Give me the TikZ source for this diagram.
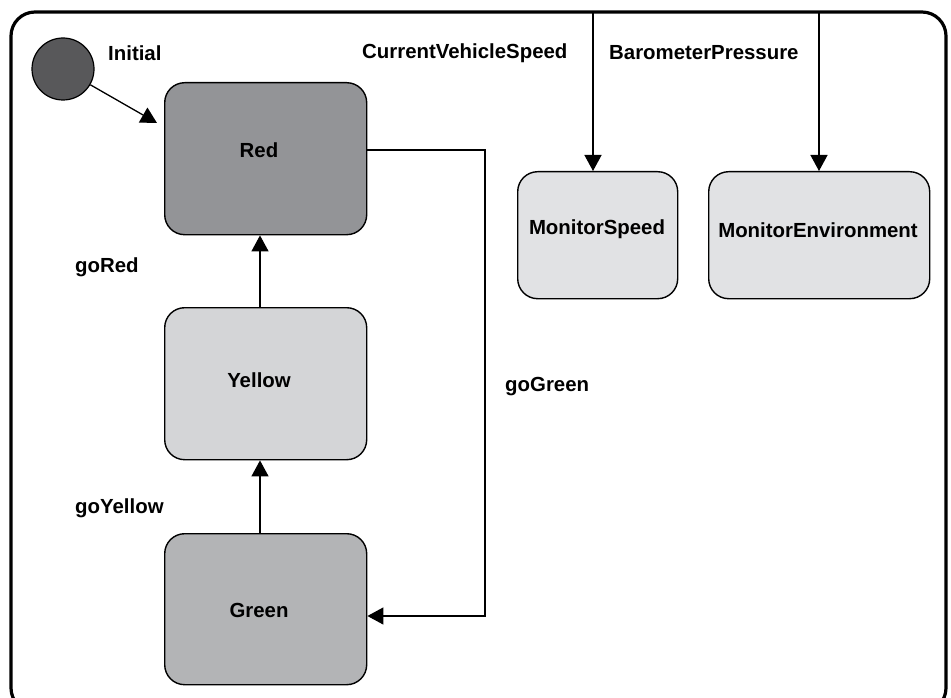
\documentclass[tikz,border=0pt]{standalone}
\usepackage{fontspec}
\setmainfont{Liberation Sans}
\usetikzlibrary{arrows.meta,calc}

\definecolor{initfill}{HTML}{58585A}
\definecolor{redfill}{HTML}{939497}
\definecolor{yellowfill}{HTML}{D4D5D7}
\definecolor{greenfill}{HTML}{B3B4B6}
\definecolor{monfill}{HTML}{E1E2E4}

\tikzset{
  statebox/.style={draw=black, line width=1.4pt, rounded corners=20pt,
    minimum width=202pt, inner sep=0pt},
  monbox/.style={draw=black, line width=1.4pt, rounded corners=20pt,
    minimum height=127pt, inner sep=0pt},
  txt/.style={font=\bfseries\fontsize{20.4}{24}\selectfont, inner sep=0pt},
  conn/.style={line width=1.3pt, -{Triangle[length=16pt,width=17pt]}},
}

\begin{document}
\begin{tikzpicture}[x=1pt,y=-1pt]
  \useasboundingbox (0,0) rectangle (951,698);
  \clip (0,0) rectangle (951,698);

  % outer frame
  \draw[line width=3.2pt, rounded corners=24pt] (11,12) rectangle (946,712);

  % states
  \node[statebox, fill=redfill, minimum height=152pt, anchor=north west] (red) at (164,82) {};
  \node[statebox, fill=yellowfill, minimum height=152pt, anchor=north west] (yellow) at (164,307) {};
  \node[statebox, fill=greenfill, minimum height=151pt, anchor=north west] (green) at (164,533) {};
  \node[monbox, fill=monfill, minimum width=160pt, anchor=north west] (mspeed) at (517,171) {};
  \node[monbox, fill=monfill, minimum width=221pt, anchor=north west] (menv) at (708,171) {};

  \node[txt] (redtxt) at (259,150) {Red};
  \node[txt] (yellowtxt) at (259,380) {Yellow};
  \node[txt] (greentxt) at (259,610) {Green};
  \node[txt] (mspeedtxt) at (597,229) {MonitorSpeed};
  \node[txt] (menvtxt) at (818,230) {MonitorEnvironment};

  % initial pseudo-state
  \node[circle, draw=black, line width=1.2pt, fill=initfill, minimum size=62pt, inner sep=0pt] (init) at (63,69) {};
  \node[txt, anchor=west] (inittxt) at (108,53) {Initial};
  \coordinate (inittip) at (157,123);
  \draw[conn] (init.-30) -- (inittip);

  % transitions (vertical ones run along x = 260)
  \coordinate (col) at (260,0);
  \draw[conn] (col |- yellow.north) -- (col |- red.south);
  \draw[conn] (col |- green.north) -- (col |- yellow.south);
  \coordinate (turn1) at (485,150);
  \coordinate (turn2) at (485,616);
  \draw[conn] (red.east |- turn1) -- (turn1) -- (turn2) -- (green.east |- turn2);

  \node[txt, anchor=west] (gored) at (75,267) {goRed};
  \node[txt, anchor=west] (goyellow) at (75,508) {goYellow};
  \node[txt, anchor=west] (gogreen) at (505,387) {goGreen};

  % inputs from the frame
  \coordinate (in1) at (593,12);
  \coordinate (in2) at (819,12);
  \draw[conn] (in1) -- (in1 |- mspeed.north);
  \draw[conn] (in2) -- (in2 |- menv.north);
  \node[txt, anchor=west] (speedlbl) at (362,53) {CurrentVehicleSpeed};
  \node[txt, anchor=west] (baro) at (609,53) {BarometerPressure};
\end{tikzpicture}
\end{document}
